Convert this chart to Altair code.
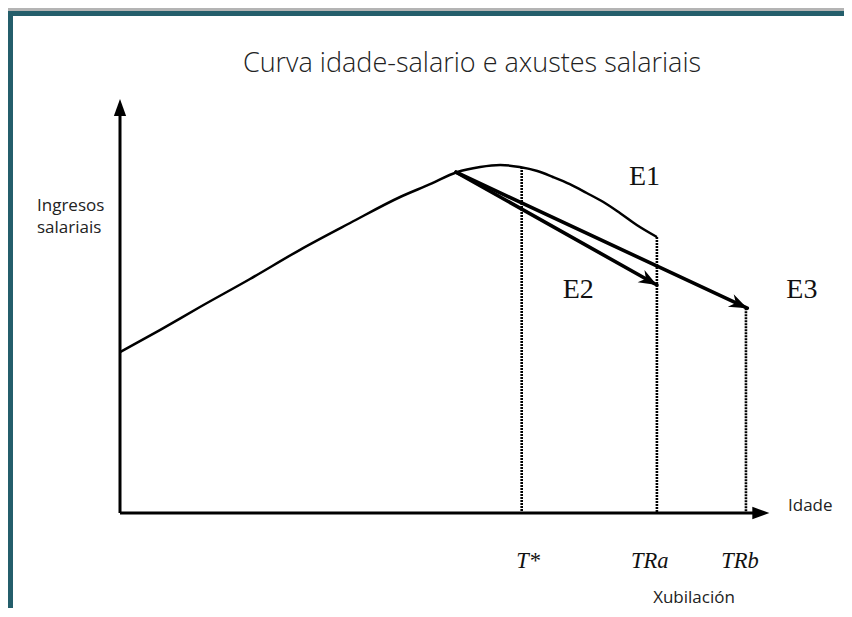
import math
import altair as alt
import pandas as pd

# ---- data (abstract units: age along x, salary income along y) ----
curve_age = [0, 6.2, 12.3, 20.0, 27.7, 35.4, 43.1, 47.7, 51.8, 55.4, 58.5, 61.5, 64.2, 66.6, 69.2, 71.8, 74.3, 76.9, 79.5, 82.6]
curve_income = [40.2, 45.8, 51.5, 58.5, 65.8, 72.5, 79.0, 82.2, 85.2, 86.5, 87.0, 86.5, 85.5, 84.0, 82.2, 80.0, 77.8, 75.0, 72.0, 69.0]

mark_names = ["T*", "TRa", "TRb"]
mark_age = [61.8, 82.6, 96.3]
mark_top = [86.5, 69.0, 51.2]

arrow_names = ["E2", "E3"]
arrow_start = (51.7, 85.2)
arrow_end_age = [82.6, 96.5]
arrow_end_income = [57.0, 51.2]

label_text = ["E1", "E2", "E3"]
label_age = [80.7, 70.5, 104.9]
label_income = [82.0, 53.8, 53.8]

tick_text = ["T*", "TRa", "TRb"]
tick_age = [62.8, 81.5, 95.4]
tick_income = [-13.8, -13.8, -13.8]

title_text = "Curva idade-salario e axustes salariais"
y_title = ["Ingresos", "salariais"]
x_title = "Idade"
extra_text = "Xubilación"

# ---- layout ----
W, H = 836, 600
SX, SY = 6.5, 4.0          # px per unit
OX, OY = 112, 505          # origin in chart px
xs = alt.Scale(domain=[(0 - OX) / SX, (W - OX) / SX], nice=False, zero=False)
ys = alt.Scale(domain=[(OY - H) / SY, OY / SY], nice=False, zero=False)

def X(f):
    return alt.X(f, type="quantitative", scale=xs, axis=None)

def Y(f):
    return alt.Y(f, type="quantitative", scale=ys, axis=None)

teal = "#245e6b"
ink = "#000000"

# frame
frame_df = pd.DataFrame({"k": [0]})
shadow = alt.Chart(frame_df).mark_rect(color="#b4b4b4").encode(
    x=alt.value(0), x2=alt.value(W), y=alt.value(0), y2=alt.value(3))
top_border = alt.Chart(frame_df).mark_rect(color=teal).encode(
    x=alt.value(0), x2=alt.value(W), y=alt.value(3), y2=alt.value(8))
left_border = alt.Chart(frame_df).mark_rect(color=teal).encode(
    x=alt.value(0), x2=alt.value(5), y=alt.value(3), y2=alt.value(H))

# curve
curve_df = pd.DataFrame({"age": curve_age, "inc": curve_income})
curve = alt.Chart(curve_df).mark_line(color=ink, strokeWidth=2.5, interpolate="monotone").encode(
    x=X("age"), y=Y("inc"), order="age:Q")

# dotted verticals
vert_df = pd.DataFrame({"name": mark_names, "age": mark_age, "top": mark_top, "zero": [0, 0, 0]})
verts = alt.Chart(vert_df).mark_rule(color=ink, strokeWidth=2.6, strokeDash=[2, 1]).encode(
    x=X("age"), y=Y("top"), y2="zero:Q")

# arrows E2, E3
ang = []
for ea, ei in zip(arrow_end_age, arrow_end_income):
    dx = (ea - arrow_start[0]) * SX
    dy = -(ei - arrow_start[1]) * SY
    ang.append(math.degrees(math.atan2(dx, -dy)))
arr_df = pd.DataFrame({
    "name": arrow_names,
    "a0": [arrow_start[0]] * 2, "i0": [arrow_start[1]] * 2,
    "a1": arrow_end_age, "i1": arrow_end_income, "ang": ang,
})
arrow_lines = alt.Chart(arr_df).mark_rule(color=ink, strokeWidth=3.6, strokeCap="round").encode(
    x=X("a0"), y=Y("i0"), x2="a1:Q", y2="i1:Q")
head_path = "M0,0 L-0.8,2.1 L0,1.45 L0.8,2.1 Z"
arrow_heads = alt.Chart(arr_df).mark_point(shape=head_path, filled=True, size=300, color=ink,
                                           opacity=1, strokeWidth=0).encode(
    x=X("a1"), y=Y("i1"), angle=alt.Angle("ang:Q", scale=None))

# axes
axis_df = pd.DataFrame({"a0": [0, 0], "i0": [0, 0], "a1": [0, 97.5], "i1": [100.0, 0]})
axes = alt.Chart(axis_df).mark_rule(color=ink, strokeWidth=3.0).encode(
    x=X("a0"), y=Y("i0"), x2="a1:Q", y2="i1:Q")
axhead_df = pd.DataFrame({"a": [0, 99.9], "i": [103.5, 0], "ang": [0, 90]})
axis_heads = alt.Chart(axhead_df).mark_point(shape="M0,0 L-0.72,2 L0.72,2 Z", filled=True, size=290,
                                             color=ink, opacity=1, strokeWidth=0).encode(
    x=X("a"), y=Y("i"), angle=alt.Angle("ang:Q", scale=None))

# serif labels E1 E2 E3
lab_df = pd.DataFrame({"t": label_text, "a": label_age, "i": label_income})
labels = alt.Chart(lab_df).mark_text(font="Liberation Serif", fontSize=28, color="#111111",
                                     align="center", baseline="alphabetic").encode(
    x=X("a"), y=Y("i"), text="t:N")

tick_df = pd.DataFrame({"t": tick_text, "a": tick_age, "i": tick_income})
ticks = alt.Chart(tick_df).mark_text(font="Liberation Serif", fontSize=22.5, fontStyle="italic",
                                     color="#111111", align="center", baseline="alphabetic").encode(
    x=X("a"), y=Y("i"), text="t:N")

sans_df = pd.DataFrame({
    "t": [y_title[0], y_title[1], x_title],
    "a": [(37 - 120) / SX, (37 - 120) / SX, (788 - 120) / SX],
    "i": [(513 - 211) / SY, (513 - 233) / SY, (513 - 511) / SY],
})
sans = alt.Chart(sans_df).mark_text(font="Open Sans", fontSize=17, color="#222222",
                                    align="left", baseline="alphabetic").encode(
    x=X("a"), y=Y("i"), text="t:N")

xub_df = pd.DataFrame({"t": [extra_text], "a": [(694 - 120) / SX], "i": [(513 - 603) / SY]})
xub = alt.Chart(xub_df).mark_text(font="Open Sans", fontSize=17, color="#222222",
                                  align="center", baseline="alphabetic").encode(
    x=X("a"), y=Y("i"), text="t:N")

title_df = pd.DataFrame({"t": [title_text]})
title = alt.Chart(title_df).mark_text(font="Open Sans", fontSize=27, fontWeight=300, color="#222222",
                                      align="center", baseline="alphabetic").encode(
    x=alt.value(464), y=alt.value(64), text="t:N")

chart = alt.layer(
    shadow, top_border, left_border,
    verts, curve, arrow_lines, arrow_heads, axes, axis_heads,
    labels, ticks, sans, xub, title,
).properties(
    width=W, height=H, padding=0, autosize=alt.AutoSizeParams(type="none"), background="white"
).configure_view(stroke=None)

chart.save("out.html", embed_options={"renderer": "svg", "actions": False})
